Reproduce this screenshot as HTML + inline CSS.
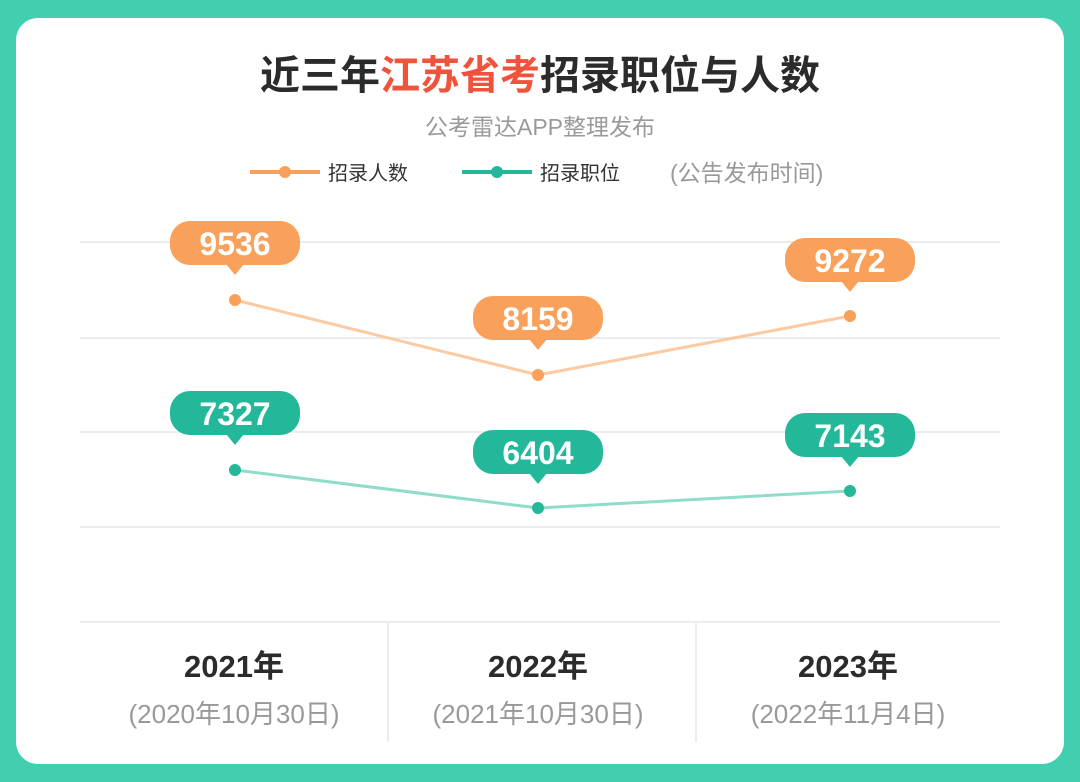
<!DOCTYPE html>
<html><head><meta charset="utf-8"><style>
html,body{margin:0;padding:0;width:1080px;height:782px;overflow:hidden;background:#42cfb0;}
svg{display:block}
text{font-family:"Liberation Sans","Noto Sans CJK SC",sans-serif;}
</style></head><body>
<svg width="1080" height="782" viewBox="0 0 1080 782">
<rect x="0" y="0" width="1080" height="782" fill="#42cfb0"/>
<rect x="16" y="18" width="1048" height="746" rx="22" fill="#ffffff"/>
<text x="540" y="89" text-anchor="middle" font-size="40" font-weight="bold" fill="#2b2b2b">近三年<tspan fill="#f0533c">江苏省考</tspan>招录职位与人数</text>
<text x="540" y="135" text-anchor="middle" font-size="23" fill="#9a9a9a">公考雷达APP整理发布</text>
<line x1="250" y1="172" x2="320" y2="172" stroke="#f9a15a" stroke-width="4"/><circle cx="285" cy="172" r="6" fill="#f9a15a"/>
<text x="328" y="180" font-size="20" fill="#333">招录人数</text>
<line x1="462" y1="172" x2="532" y2="172" stroke="#22b899" stroke-width="4"/><circle cx="497" cy="172" r="6" fill="#22b899"/>
<text x="540" y="180" font-size="20" fill="#333">招录职位</text>
<text x="670" y="181" font-size="23" fill="#999">(公告发布时间)</text>
<g stroke="#ececec" stroke-width="2">
<line x1="80" y1="242" x2="1000" y2="242"/><line x1="80" y1="338" x2="1000" y2="338"/>
<line x1="80" y1="432" x2="1000" y2="432"/><line x1="80" y1="527" x2="1000" y2="527"/>
<line x1="80" y1="622" x2="1000" y2="622"/>
<line x1="388" y1="622" x2="388" y2="742"/><line x1="696" y1="622" x2="696" y2="742"/>
</g>
<polyline points="235,300 538,375 850,316" fill="none" stroke="#fbcaa0" stroke-width="3"/>
<polyline points="235,470 538,508 850,491" fill="none" stroke="#8fdcca" stroke-width="3"/>
<g fill="#f9a15a"><circle cx="235" cy="300" r="6"/><circle cx="538" cy="375" r="6"/><circle cx="850" cy="316" r="6"/></g>
<g fill="#22b899"><circle cx="235" cy="470" r="6"/><circle cx="538" cy="508" r="6"/><circle cx="850" cy="491" r="6"/></g>
<g font-size="32" font-weight="bold" fill="#fff" text-anchor="middle">
<g fill="#f9a15a">
<rect x="170" y="221" width="130" height="44" rx="20"/><path d="M226 264 L235 275 L244 264Z"/>
<rect x="473" y="296" width="130" height="44" rx="20"/><path d="M529 339 L538 350 L547 339Z"/>
<rect x="785" y="238" width="130" height="44" rx="20"/><path d="M841 281 L850 292 L859 281Z"/>
</g>
<g fill="#22b899">
<rect x="170" y="391" width="130" height="44" rx="20"/><path d="M226 434 L235 445 L244 434Z"/>
<rect x="473" y="430" width="130" height="44" rx="20"/><path d="M529 473 L538 484 L547 473Z"/>
<rect x="785" y="413" width="130" height="44" rx="20"/><path d="M841 456 L850 467 L859 456Z"/>
</g>
<text x="235" y="255">9536</text><text x="538" y="330">8159</text><text x="850" y="272">9272</text>
<text x="235" y="425">7327</text><text x="538" y="464">6404</text><text x="850" y="447">7143</text>
</g>
<g text-anchor="middle">
<text x="234" y="677" font-size="31" font-weight="bold" fill="#2b2b2b">2021年</text>
<text x="538" y="677" font-size="31" font-weight="bold" fill="#2b2b2b">2022年</text>
<text x="848" y="677" font-size="31" font-weight="bold" fill="#2b2b2b">2023年</text>
<text x="234" y="723" font-size="26" fill="#999">(2020年10月30日)</text>
<text x="538" y="723" font-size="26" fill="#999">(2021年10月30日)</text>
<text x="848" y="723" font-size="26" fill="#999">(2022年11月4日)</text>
</g>
</svg>
</body></html>
